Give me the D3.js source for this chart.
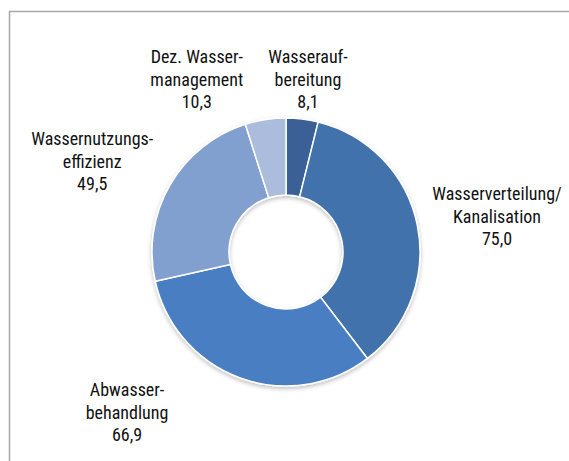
<!DOCTYPE html>
<html>
<head>
<meta charset="utf-8">
<script src="https://cdn.jsdelivr.net/npm/d3@7"></script>
<style>
  html, body { margin: 0; padding: 0; background: #fff; }
  svg { display: block; }
  .label { font-family: "Liberation Sans Narrow", "Roboto Condensed", "DejaVu Sans Condensed", sans-serif; font-size: 18px; fill: #111; }
</style>
</head>
<body>
<div id="viz"></div>
<script>
const categories = [
  ["Wasserauf-", "bereitung"],
  ["Wasserverteilung/", "Kanalisation"],
  ["Abwasser-", "behandlung"],
  ["Wassernutzungs-", "effizienz"],
  ["Dez. Wasser-", "management"]
];
const values = [8.1, 75.0, 66.9, 49.5, 10.3];
const colors = ["#3b6096", "#4372ab", "#4a7ec2", "#819fcf", "#abbcdd"];

const width = 569, height = 461;
const cx = 286, cy = 252;
const outerR = 134, innerR = 57;

// label placement tweaks (Excel-style offsets from the centroid)
const labelNudge = [[-1, 16], [25, 3], [-94, -18], [-29, 4], [-60, 15]];

const svg = d3.select("#viz")
  .append("svg")
    .attr("width", width)
    .attr("height", height);

// frame (top and left edges only)
svg.append("path")
  .attr("d", `M9.5,${height} L9.5,11.5 L${width},11.5`)
  .attr("fill", "none")
  .attr("stroke", "#a6a6a6")
  .attr("stroke-width", 1.5);

const defs = svg.append("defs");
const shadow = defs.append("filter")
  .attr("id", "shadow")
  .attr("x", "-20%").attr("y", "-20%")
  .attr("width", "140%").attr("height", "140%");
shadow.append("feDropShadow")
  .attr("dx", 0).attr("dy", 2)
  .attr("stdDeviation", 2)
  .attr("flood-color", "#000")
  .attr("flood-opacity", 0.25);

const pie = d3.pie().sort(null).value(d => d);
const arcs = pie(values);

const arc = d3.arc().innerRadius(innerR).outerRadius(outerR);
const labelArc = d3.arc().innerRadius(190).outerRadius(190);

const g = svg.append("g")
  .attr("transform", `translate(${cx},${cy})`);

g.append("g")
  .attr("filter", "url(#shadow)")
  .selectAll("path")
  .data(arcs)
  .join("path")
    .attr("d", arc)
    .attr("fill", (d, i) => colors[i])
    .attr("stroke", "#fff")
    .attr("stroke-width", 1.5);

const fmt = v => v.toFixed(1).replace(".", ",");

const labels = g.selectAll("text.label")
  .data(arcs)
  .join("text")
    .attr("class", "label")
    .attr("text-anchor", "middle")
    .attr("transform", (d, i) => {
      const [x, y] = labelArc.centroid(d);
      return `translate(${x + labelNudge[i][0]},${y + labelNudge[i][1]})`;
    });

labels.each(function(d, i) {
  const t = d3.select(this);
  const lines = categories[i].concat([fmt(values[i])]);
  lines.forEach((line, j) => {
    t.append("tspan")
      .attr("x", 0)
      .attr("y", (j - 1) * 22.5)
      .attr("dy", "0.35em")
      .text(line);
  });
});
</script>
</body>
</html>
